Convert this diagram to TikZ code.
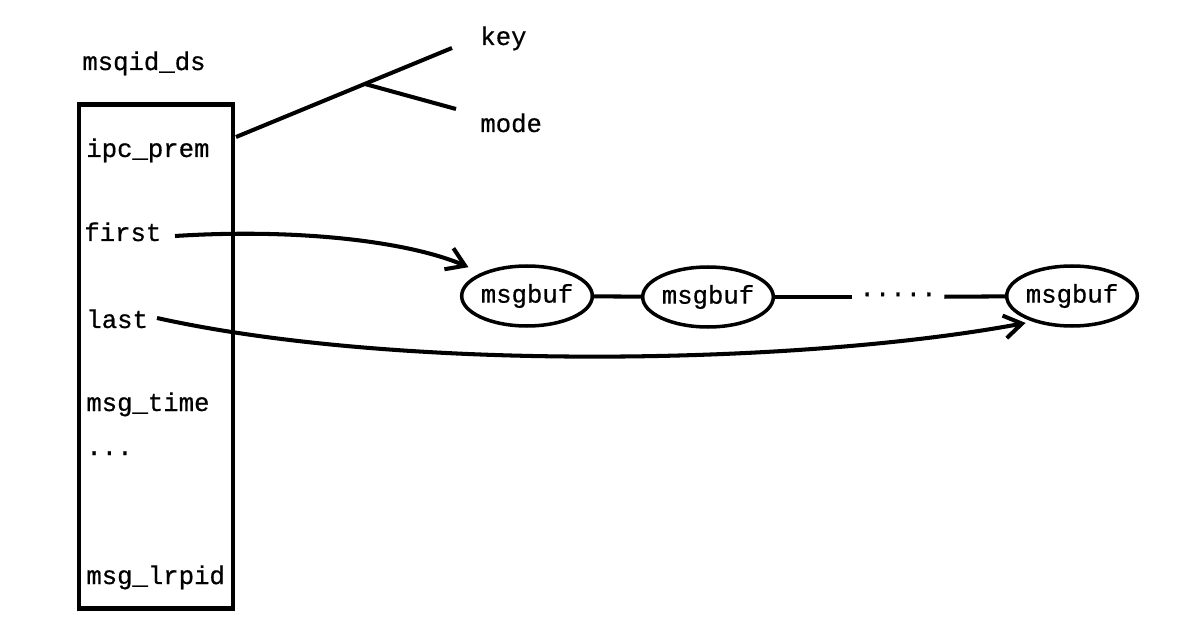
\documentclass[tikz,border=0pt]{standalone}
\usepackage{fontspec}
\setmainfont[FakeBold=0.6]{Liberation Mono}
\usetikzlibrary{shapes.geometric, arrows.meta}
\tikzset{
    field/.style={ % Labels inside and around the struct
    anchor=base west,
    inner sep=0pt,
    font=\fontsize{14.6}{17}\selectfont},
    msgbox/.style={ % One message buffer
    draw, ellipse,
    line width=2pt,
    minimum width=2.52cm, minimum height=1.2cm,
    inner sep=0pt,
    font=\fontsize{14.6}{17}\selectfont},
    link/.style={line width=2.3pt},
    ptr/.style={link, -{Straight Barb[length=10pt, width=13pt, line width=2.3pt]}}}

\begin{document}
\begin{tikzpicture}[x=0.02cm, y=-0.02cm]
    \useasboundingbox (0, 0) rectangle (1202, 621);

    % The struct
    \node[field] (title) at (82, 70) {msqid\_ds};
    \node[draw, line width=2.8pt, minimum width=3.08cm, minimum height=10.1cm, inner sep=0pt] (box) at (156, 356.5) {};
    \node[field] (ipc) at (86, 157) {ipc\_prem};
    \node[field] (first) at (84, 241) {first};
    \node[field] (last) at (86, 328) {last};
    \node[field] (time) at (86, 411) {msg\_time};
    \node[field] (more) at (86, 455) {...};
    \node[field] (lrpid) at (86, 584) {msg\_lrpid};

    % Permission fields
    \node[field] (key) at (480, 45) {key};
    \node[field] (mode) at (480, 132) {mode};
    \coordinate (perm) at (236, 137);
    \coordinate (fork) at (365, 84);
    \coordinate (keyend) at (452, 48);
    \coordinate (modeend) at (456, 109);
    \draw[link] (perm) -- (keyend);
    \draw[link] (fork) -- (modeend);

    % Message queue
    \node[msgbox] (m1) at (527, 296) {msgbuf};
    \node[msgbox] (m2) at (708, 297) {msgbuf};
    \node[msgbox] (m3) at (1072, 296) {msgbuf};
    \node[inner xsep=0.15cm, inner ysep=0pt, font=\fontsize{14.6}{17}\selectfont] (gap) at (898, 297) {·····};
    \draw[link] (m1) -- (m2);
    \draw[link] (m2) -- (gap);
    \draw[link] (gap) -- (m3);

    % Pointers
    \coordinate (firstptr) at (175, 236);
    \coordinate (lastptr) at (157, 318);
    \draw[ptr, shorten >=8pt] (firstptr) .. controls (300, 228) and (410, 242) .. (m1.153);
    \draw[ptr, shorten >=4pt] (lastptr) .. controls (400, 372) and (800, 365) .. (m3.213);
\end{tikzpicture}
\end{document}
